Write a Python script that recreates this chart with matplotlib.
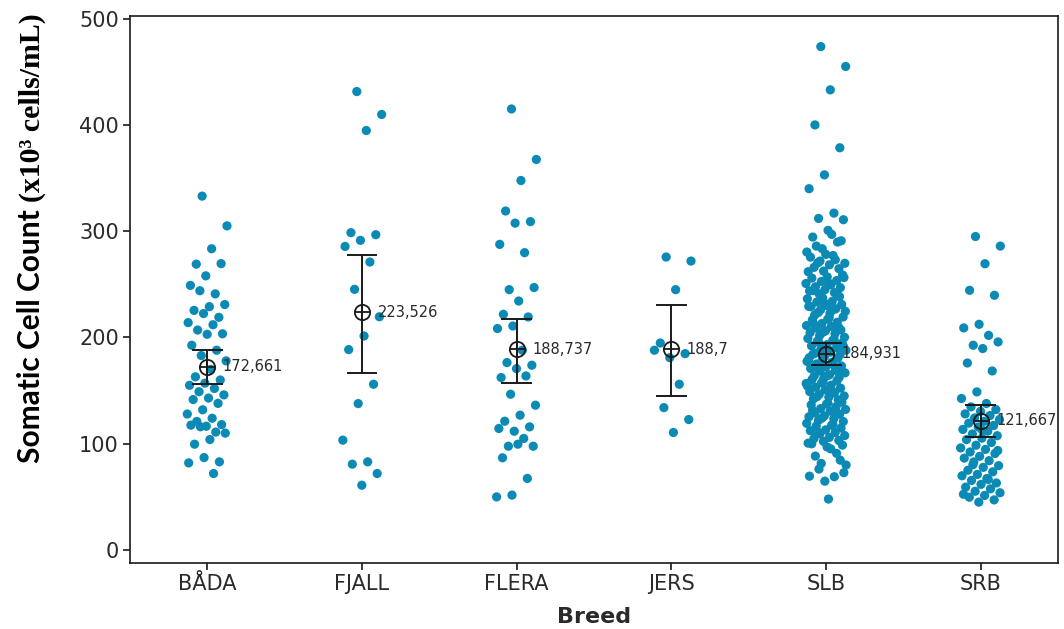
import matplotlib
matplotlib.use("Agg")
import matplotlib.pyplot as plt
import numpy as np

# Breeds on the x axis
breeds = ["BÅDA", "FJALL", "FLERA", "JERS", "SLB", "SRB"]

# Individual somatic cell counts (x10^3 cells/mL) per breed
bada = [333, 305, 283.5, 269, 269.5, 258, 249, 241, 244, 231, 229, 225.5, 219,
        222.5, 214, 212, 207, 203.5, 203, 192.7, 188, 183, 178, 170, 163, 160,
        157, 155, 152, 149, 146, 143, 141.6, 138, 132, 128, 124, 121, 118,
        116.5, 117.5, 111, 116, 110, 104, 99.6, 83, 87, 82, 72]
fjall = [431.4, 409.8, 394.7, 298.6, 296.7, 291.4, 285.7, 271, 245.3, 219.5,
         201.4, 188.6, 156, 137.8, 103.4, 83, 80.8, 72, 61]
flera = [415, 367.5, 347.7, 319, 309, 307.6, 287.6, 279.8, 245, 247, 234.3,
         221.8, 219.3, 210.8, 208.4, 188, 176.4, 173.9, 170.7, 162.3, 163.8,
         146.6, 136.3, 126.9, 121.2, 115.9, 111.8, 114.4, 105, 97.7, 97.7,
         99.6, 86.8, 67.4, 51.7, 50]
jers = [275.7, 271.9, 245, 194.8, 184.8, 181, 188, 156, 134, 122.8, 110.6]
slb = [473.7, 455, 433, 400, 378.5, 353, 340, 317, 312, 310.8, 300.8, 294.5,
       289.8, 283.5, 280.4, 297, 286, 291,
       278.2, 275.6, 273.1, 271.9, 269.8, 268.4, 266.0, 264.7, 262.5, 261.9,
       277.1, 270.2,
       258.8, 257.0, 255.9, 253.6, 252.7, 250.8, 249.5, 247.7, 246.9, 245.0,
       243.8, 242.2, 241.1, 256.4, 251.3, 244.1,
       239.2, 237.1, 236.4, 234.0, 233.4, 231.1, 230.2, 228.9, 227.0, 225.9,
       224.6, 222.8, 221.0, 238.5, 232.6, 229.3, 226.4, 223.5,
       219.3, 217.2, 216.6, 214.3, 213.1, 211.2, 210.4, 208.8, 207.1, 206.3,
       204.6, 203.5, 201.8, 200.2, 218.4, 212.5, 209.6, 205.1,
       199.1, 197.2, 196.6, 194.8, 193.2, 192.1, 190.4, 189.5, 187.9, 186.2,
       185.1, 183.9, 182.4, 181.0, 198.2, 195.4, 191.3, 188.6, 184.2, 180.6,
       179.3, 177.5, 176.7, 175.1, 173.2, 172.5, 170.9, 169.1, 168.4, 166.7,
       165.0, 163.9, 162.3, 161.5, 178.5, 174.3, 171.2, 167.3, 164.1, 160.5,
       159.2, 157.4, 156.7, 155.0, 153.2, 152.4, 150.8, 149.0, 148.3, 146.6,
       145.0, 143.9, 142.2, 141.3, 158.1, 154.2, 147.5, 144.3,
       139.1, 137.3, 136.6, 134.9, 133.1, 132.3, 130.7, 129.0, 127.8, 126.2,
       125.4, 123.6, 122.0, 120.9, 138.2, 131.4, 128.6, 124.2,
       119.2, 117.4, 116.6, 114.8, 113.1, 112.3, 110.6, 109.3, 107.7, 106.0,
       104.9, 103.1, 102.3, 100.6, 118.1, 111.3,
       98.7, 97.0, 100.0, 91.0, 81.5, 80.0, 95.2, 88.4, 84.6,
       64.8, 69.5, 69.0, 76.2, 72.8, 48]
srb = [295, 286, 269.4, 244.4, 239.7, 212.4, 209, 202, 192.7, 195.8, 189.6,
       176, 168.5, 148.8, 142.6, 137.9, 134.7, 132.2, 130.5, 128.1, 126.6,
       124.3, 122.8, 121.1, 119.4, 117.2, 115.8, 113.5, 111.9, 109.2, 107.6,
       105.3, 103.9, 101.2, 98.6, 96.1, 94.7, 92.3, 90.8, 88.2, 86.5, 84.1,
       82.9, 79.4, 77.8, 75.1, 73.6, 71.2, 69.9, 67.3, 65.5, 63.1, 61.8, 59.2,
       57.6, 55.3, 53.9, 51.4, 49.7, 47.2, 45.1, 52.5, 66.4, 80.3, 93.6, 112.7]
groups = [bada, fjall, flera, jers, slb, srb]

# Group means with 95% confidence interval limits
means = [172.661, 223.526, 188.737, 188.7, 184.931, 121.667]
mean_labels = ["172,661", "223,526", "188,737", "188,7", "184,931", "121,667"]
ci_low = [156.0, 166.7, 157.6, 145.0, 173.9, 106.5]
ci_high = [188.6, 278.0, 217.7, 230.3, 194.8, 136.3]

dot_color = "#0a8ab5"
text_color = "#2a2a2a"

fig = plt.figure(figsize=(10.64, 6.29), dpi=100)
ax = fig.add_axes([0.1222, 0.1049, 0.8722, 0.8697])

# Individual values, spread sideways with a deterministic jitter
for i, vals in enumerate(groups):
    n = len(vals)
    k = np.arange(n)
    offs = ((k * 0.6180339887 + 0.37) % 1.0 - 0.5) * 0.26
    ax.scatter(i + offs, vals, s=44, color=dot_color, edgecolors="none",
               zorder=2)

# Confidence intervals and mean symbols
cap = 0.1
for i in range(len(breeds)):
    ax.vlines(i, ci_low[i], ci_high[i], color="#1a1a1a", lw=1.4, zorder=3)
    ax.hlines([ci_low[i], ci_high[i]], i - cap, i + cap, color="#1a1a1a",
              lw=1.4, zorder=3)
    ax.plot(i, means[i], marker="o", ms=11, mfc="none", mec="#1a1a1a",
            mew=1.3, zorder=4)
    ax.plot(i, means[i], marker="+", ms=11, color="#1a1a1a", mew=1.3,
            zorder=4)
    ax.text(i + 0.1, means[i], mean_labels[i], fontsize=10.5,
            color=text_color, va="center", ha="left", zorder=5)

ax.set_xlim(-0.5, 5.5)
ax.set_ylim(-12.2, 502.5)
ax.set_xticks(range(len(breeds)))
ax.set_xticklabels(breeds)
ax.set_yticks([0, 100, 200, 300, 400, 500])
ax.tick_params(axis="both", direction="out", length=5, width=1.2,
               labelsize=15, labelcolor=text_color, color="#1a1a1a")
ax.tick_params(axis="x", pad=3)
ax.tick_params(axis="y", pad=3)
for sp in ax.spines.values():
    sp.set_linewidth(1.2)
    sp.set_color("#1a1a1a")

ax.set_xlabel("Breed", fontsize=16, fontweight="bold", color=text_color,
              labelpad=9)

# Y axis title in two fonts sharing one baseline
base_x = 40 / 1064
t1 = fig.text(base_x, (629 - 463) / 629, "Somatic Cell Count ",
              rotation=90, rotation_mode="anchor", ha="left", va="baseline",
              fontsize=21.5, fontweight="bold", family="Lato",
              color="black")
fig.canvas.draw()
bb = t1.get_window_extent()
fig.text(base_x, bb.y1 / fig.bbox.height, "(x10³ cells/mL)",
         rotation=90, rotation_mode="anchor", ha="left", va="baseline",
         fontsize=21.5, fontweight="bold", family="Liberation Serif",
         color="black")

fig.savefig("out.png", dpi=100)
